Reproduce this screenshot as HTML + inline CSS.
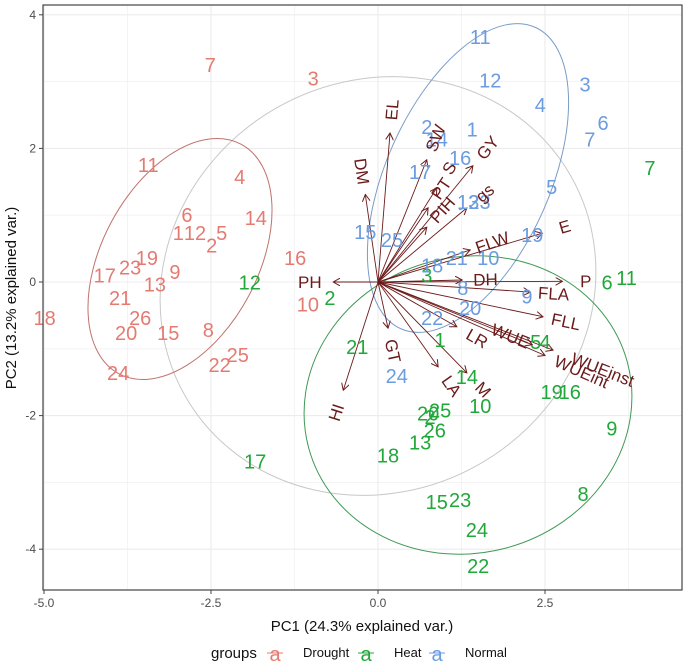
<!DOCTYPE html>
<html><head><meta charset="utf-8"><style>
body{margin:0;background:#fff;}
svg{display:block;font-family:"Liberation Sans",sans-serif;}
</style></head><body>
<svg id="c" width="685" height="664"></svg>
<script>
const droughtLabels=["7","3","11","4","6","14","1","12","5","2","16","10","19","23","17","9","13","21","18","26","20","15","8","25","22","24"];
const droughtX=[-2.51,-0.97,-3.44,-2.07,-2.86,-1.83,-2.99,-2.74,-2.34,-2.49,-1.24,-1.05,-3.46,-3.71,-4.09,-3.04,-3.34,-3.86,-4.99,-3.56,-3.77,-3.14,-2.54,-2.10,-2.37,-3.89];
const droughtY=[3.25,3.05,1.75,1.57,1.0,0.96,0.73,0.73,0.73,0.55,0.36,-0.34,0.36,0.22,0.10,0.15,-0.04,-0.24,-0.54,-0.54,-0.76,-0.76,-0.72,-1.09,-1.24,-1.36];
const heatLabels=["7","11","6","12","2","3","21","1","5","4","14","10","19","16","9","25","2","26","13","18","17","8","15","23","24","22","20"];
const heatX=[4.07,3.72,3.43,-1.92,-0.72,0.73,-0.31,0.93,2.36,2.50,1.33,1.53,2.60,2.87,3.50,0.93,0.78,0.85,0.63,0.15,-1.84,3.07,0.88,1.23,1.48,1.50,0.75];
const heatY=[1.71,0.06,-0.01,-0.01,-0.24,0.10,-0.97,-0.87,-0.90,-0.90,-1.42,-1.86,-1.65,-1.65,-2.19,-1.92,-2.02,-2.22,-2.40,-2.60,-2.69,-3.17,-3.29,-3.26,-3.71,-4.25,-1.97];
const normalLabels=["11","12","3","4","6","7","1","2","14","16","17","5","13","23","15","25","19","21","10","18","8","9","20","22","24"];
const normalX=[1.53,1.68,3.10,2.43,3.37,3.17,1.41,0.73,0.88,1.23,0.63,2.60,1.35,1.52,-0.19,0.21,2.31,1.18,1.65,0.81,1.27,2.23,1.38,0.81,0.28];
const normalY=[3.67,3.02,2.96,2.65,2.38,2.13,2.28,2.32,2.13,1.86,1.65,1.42,1.20,1.20,0.75,0.63,0.70,0.36,0.36,0.25,-0.09,-0.22,-0.39,-0.54,-1.41];
const varNames=["EL","DM","PH","HI","GT","LA","M","LR","WUE","WUEint","WUEinst","FLL","FLA","P","DH","FLW","E","gs","GY","S","PT","PIH","SW"];
const varX=[0.18,-0.19,-0.67,-0.52,0.15,0.90,1.33,1.18,2.31,2.50,2.62,2.47,2.28,2.76,1.26,1.38,2.46,1.33,1.42,0.88,0.75,0.73,0.73];
const varY=[2.23,1.31,0,-1.62,-0.69,-1.27,-1.36,-0.67,-0.94,-1.10,-1.02,-0.52,-0.15,0.01,0.03,0.48,0.73,1.11,1.74,1.41,1.11,0.82,1.83];
const xTicks=[-5,-2.5,0,2.5];const xTickLabels=["-5.0","-2.5","0.0","2.5"];
const yTicks=[-4,-2,0,2,4];const yTickLabels=["-4","-2","0","2","4"];

const NS="http://www.w3.org/2000/svg",svg=document.getElementById('c');
const L=43,R=682,T=5,B=590;
const sx=v=>378+v*66.8, sy=v=>282-v*66.8;
const gapMap={WUE:-0.35,WUEint:0.6,WUEinst:0.8};
function mk(t,a,p){const e=document.createElementNS(NS,t);for(const k in a)e.setAttribute(k,a[k]);(p||svg).appendChild(e);return e;}
const defs=mk('defs',{});
const mark=mk('marker',{id:'ah',markerWidth:8,markerHeight:8,refX:7,refY:4,orient:'auto',markerUnits:'userSpaceOnUse'},defs);
mk('path',{d:'M0,0 L7,4 L0,8',fill:'none',stroke:'#6b1a1a','stroke-width':1},mark);
for(let v=-5;v<=4.5;v+=1.25){const g=mk('line',{x1:sx(v),x2:sx(v),y1:T,y2:B,stroke:'#ececec','stroke-width':(v%2.5===0)?1.1:0.6});}
for(let v=-4;v<=4;v+=1){const g=mk('line',{x1:L,x2:R,y1:sy(v),y2:sy(v),stroke:'#ececec','stroke-width':(v%2===0)?1.1:0.6});}
function ell(cx,cy,rx,ry,rot,col,name){const e=mk('ellipse',{cx,cy,rx,ry,transform:`rotate(${rot} ${cx} ${cy})`,fill:'none',stroke:col,'stroke-width':1});}
ell(378,286,222,205,-30,'#c8c8c8','overall-ellipse');
ell(180,259,130,78,-62,'#c0726c','drought-ellipse');
ell(468,178,165,82,-66,'#7a9cc8','normal-ellipse');
ell(468,405,165,148,-15,'#3f9a55','heat-ellipse');
varNames.forEach((n,i)=>{
 const x=sx(varX[i]),y=sy(varY[i]);
 const a=mk('line',{x1:378,y1:282,x2:x,y2:y,stroke:'#6b1a1a','stroke-width':0.9,'marker-end':'url(#ah)'});
 
 
});
function pts(labs,xs,ys,col,g){labs.forEach((l,i)=>{const t=mk('text',{x:sx(xs[i]),y:sy(ys[i])+7,'text-anchor':'middle','font-size':20,fill:col});t.textContent=l;

});}
pts(droughtLabels,droughtX,droughtY,'#e47b72','drought');
pts(heatLabels,heatX,heatY,'#20a83a','heat');
pts(normalLabels,normalX,normalY,'#6b9be0','normal');
varNames.forEach((n,i)=>{
 const vx=varX[i],vy=varY[i],len=Math.hypot(vx,vy);
 const deg=vx===0?-90:-Math.atan(vy/vx)*180/Math.PI;
 const gap=(n in gapMap)?gapMap[n]:0.35;
 const f=(len+gap)/len;const x=sx(vx*f),y=sy(vy*f);
 const t=mk('text',{x,y:y+6,'text-anchor':'middle','font-size':17,fill:'#6b1a1a',transform:`rotate(${deg} ${x} ${y})`});t.textContent=n;
 
 
});
const fr=mk('rect',{x:L,y:T,width:R-L,height:B-T,fill:'none',stroke:'#444','stroke-width':1.2});
xTicks.forEach((v,i)=>{mk('line',{x1:sx(v),x2:sx(v),y1:B,y2:B+4,stroke:'#444'});const t=mk('text',{x:sx(v),y:B+17,'text-anchor':'middle','font-size':12,fill:'#4d4d4d'});t.textContent=xTickLabels[i];});
yTicks.forEach((v,i)=>{mk('line',{x1:L-4,x2:L,y1:sy(v),y2:sy(v),stroke:'#444'});const t=mk('text',{x:L-7,y:sy(v)+4,'text-anchor':'end','font-size':12,fill:'#4d4d4d'});t.textContent=yTickLabels[i];});
let t=mk('text',{x:362,y:631,'text-anchor':'middle','font-size':15,fill:'#111'});t.textContent='PC1 (24.3% explained var.)';
t=mk('text',{x:16,y:298,'text-anchor':'middle','font-size':15,fill:'#111',transform:'rotate(-90 16 298)'});t.textContent='PC2 (13.2% explained var.)';
t=mk('text',{x:211,y:658,'font-size':15,fill:'#111'});t.textContent='groups';
[['Drought','#e47b72',275],['Heat','#20a83a',366],['Normal','#6b9be0',437]].forEach(([n,c,x])=>{
 const g=mk('g',{});
 mk('line',{x1:x-8,x2:x+8,y1:653,y2:653,stroke:c,'stroke-width':1},g);
 const a=mk('text',{x,y:661,'text-anchor':'middle','font-size':20,fill:c},g);a.textContent='a';
 const b=mk('text',{x:x+28,y:657,'font-size':13,fill:'#111'},g);b.textContent=n;
});
</script>
</body></html>
